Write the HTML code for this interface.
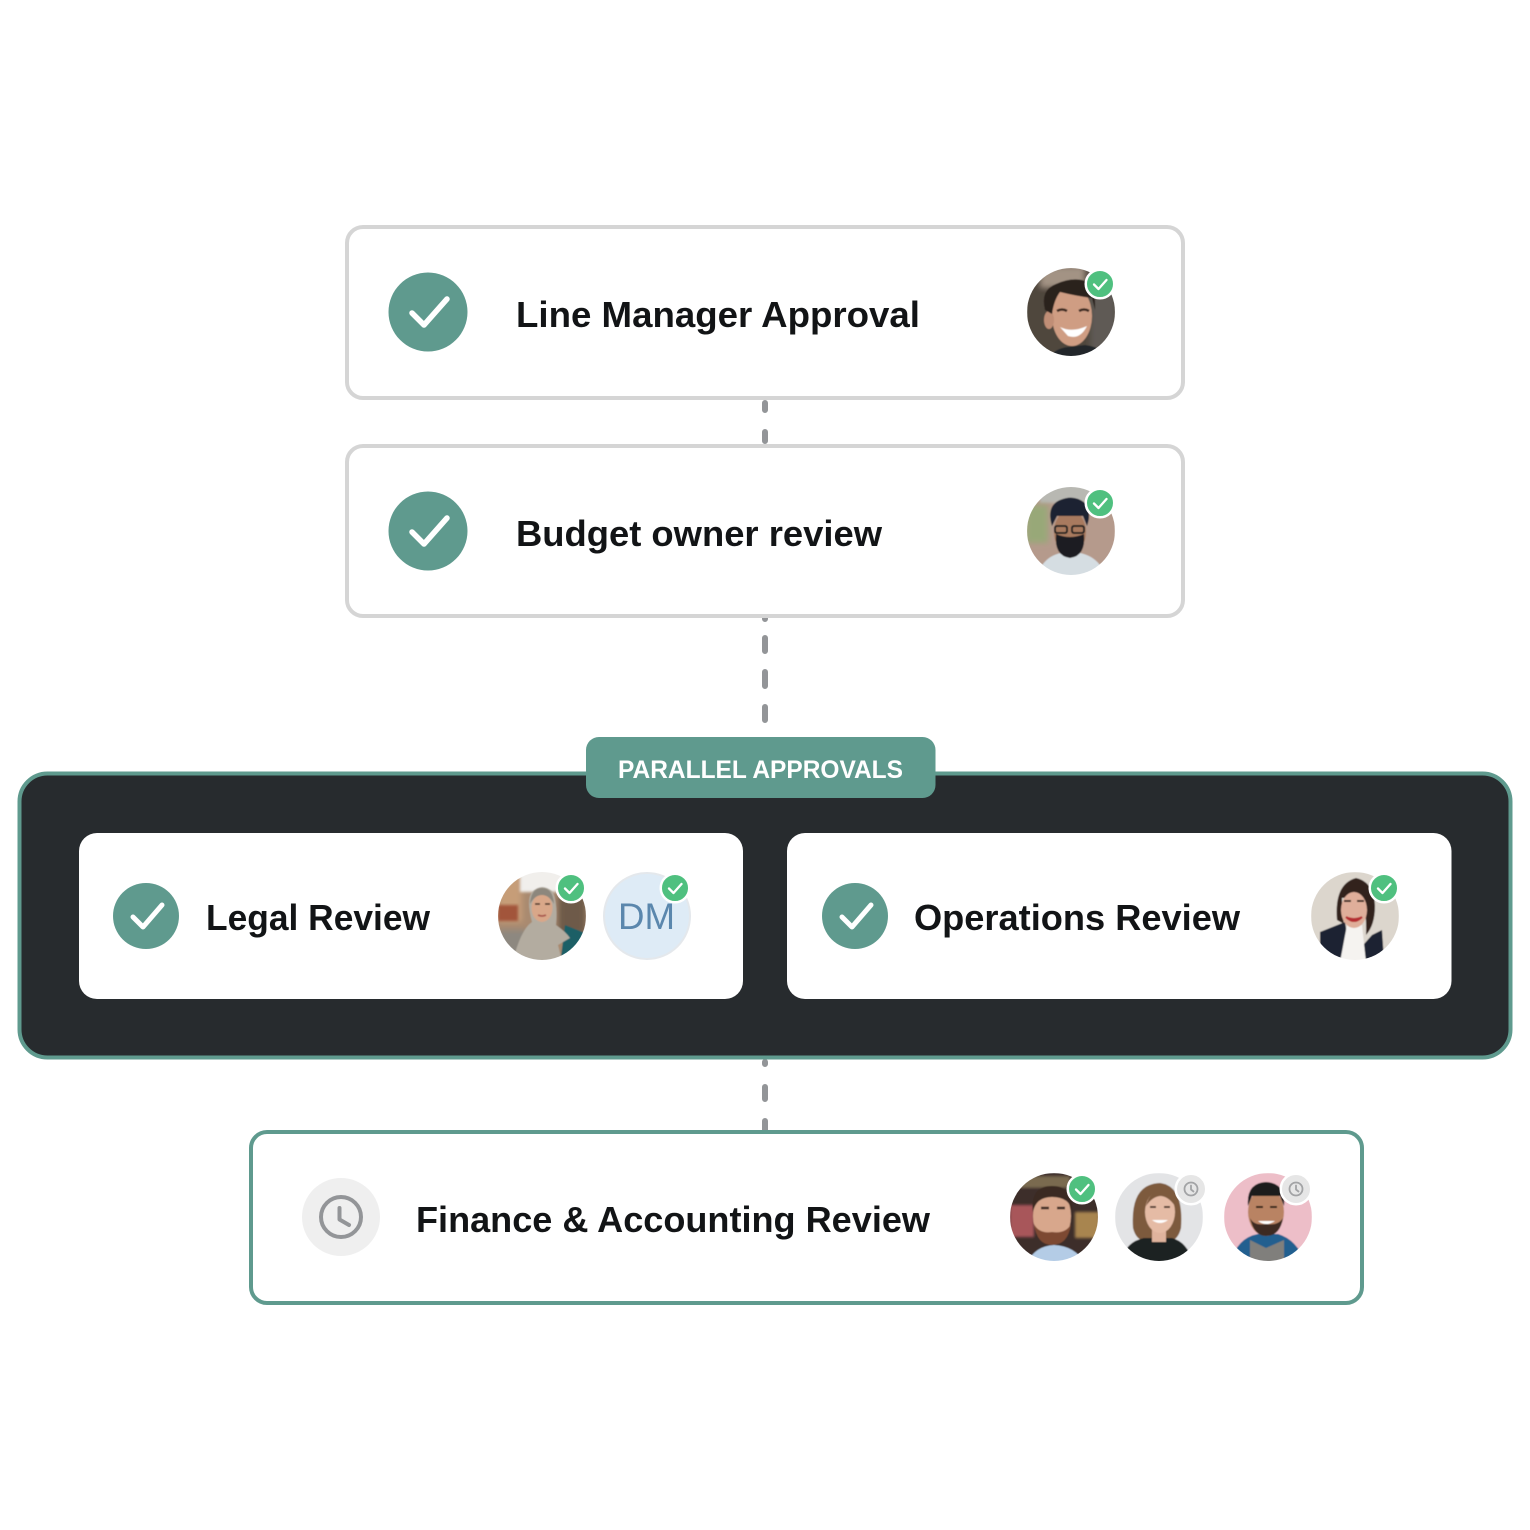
<!DOCTYPE html>
<html lang="en"><head><meta charset="utf-8"><title>Approval flow</title>
<style>html,body{margin:0;padding:0;background:#fff}svg{display:block}text{font-family:"Liberation Sans",Arial,sans-serif}
.t{font-size:36px;font-weight:700;fill:#121416}</style></head>
<body>
<svg width="1530" height="1530" viewBox="0 0 1530 1530" xmlns="http://www.w3.org/2000/svg">
<defs>
<clipPath id="c1"><circle cx="1071" cy="312" r="44"/></clipPath>
<clipPath id="c2"><circle cx="1071" cy="531" r="44"/></clipPath>
<clipPath id="c3"><circle cx="542" cy="916" r="44"/></clipPath>
<clipPath id="c4"><circle cx="1355" cy="916" r="44"/></clipPath>
<clipPath id="c5"><circle cx="1054" cy="1217" r="44"/></clipPath>
<clipPath id="c6"><circle cx="1159" cy="1217" r="44"/></clipPath>
<clipPath id="c7"><circle cx="1268" cy="1217" r="44"/></clipPath>
<filter id="s" x="-5%" y="-5%" width="110%" height="110%"><feGaussianBlur stdDeviation="0.6"/></filter>
<filter id="b1" x="-10%" y="-10%" width="120%" height="120%"><feGaussianBlur stdDeviation="1.2"/></filter>
<filter id="b3" x="-20%" y="-20%" width="140%" height="140%"><feGaussianBlur stdDeviation="3"/></filter>
</defs>
<rect width="1530" height="1530" fill="#fff"/>

<!-- connectors -->
<g stroke="#939598" stroke-width="6" stroke-linecap="round" fill="none">
<path d="M765 403V410M765 432V441M765 618V619M765 638V651M765 672V686M765 707V720M765 1062V1064M765 1087V1099M765 1121V1130"/>
</g>

<!-- top cards -->
<rect x="347" y="227" width="836" height="171" rx="16" fill="#fff" stroke="#d5d5d5" stroke-width="4"/>
<rect x="347" y="446" width="836" height="170" rx="16" fill="#fff" stroke="#d5d5d5" stroke-width="4"/>
<circle cx="428" cy="312" r="39.500" fill="#5f9a8e"/>
<path d="M412 313L424 325L447 299" fill="none" stroke="#fff" stroke-width="5.500" stroke-linecap="round" stroke-linejoin="round"/>
<circle cx="428" cy="531" r="39.500" fill="#5f9a8e"/>
<path d="M412 532L424 544L447 518" fill="none" stroke="#fff" stroke-width="5.500" stroke-linecap="round" stroke-linejoin="round"/>
<text class="t" x="516" y="327" textLength="404" lengthAdjust="spacingAndGlyphs">Line Manager Approval</text>
<text class="t" x="516" y="546" textLength="366" lengthAdjust="spacingAndGlyphs">Budget owner review</text>

<!-- avatar 1 -->
<g clip-path="url(#c1)"><g filter="url(#s)">
<rect x="1027" y="268" width="88" height="88" fill="#4f463d"/>
<rect x="1090" y="268" width="26" height="88" fill="#5f5a55" filter="url(#b3)"/>
<rect x="1040" y="266" width="45" height="22" fill="#a39384" filter="url(#b3)"/>
<path d="M1048 358Q1056 348 1068 347L1085 345Q1096 346 1102 352V360H1048Z" fill="#23282a"/>
<ellipse cx="1072" cy="316" rx="20" ry="30" fill="#cf9d83"/>
<ellipse cx="1049" cy="320" rx="5" ry="9" fill="#c08e76"/>
<path d="M1045 310Q1040 290 1056 284Q1074 276 1088 282Q1096 290 1095 310L1092 298Q1076 296 1060 292Q1054 300 1052 314Z" fill="#2a211d"/>
<path d="M1060 327Q1072 333 1087 326Q1080 340 1068 336Z" fill="#fff"/>
<path d="M1057 311q5-3 10 0M1079 311q5-3 10 0" fill="none" stroke="#3c2a22" stroke-width="2.500"/>
</g></g>
<!-- avatar 2 -->
<g clip-path="url(#c2)"><g filter="url(#s)">
<rect x="1027" y="487" width="88" height="88" fill="#b59a8c"/>
<rect x="1040" y="483" width="62" height="20" fill="#b8b8b2" filter="url(#b1)"/>
<rect x="1026" y="505" width="22" height="38" fill="#98a878" filter="url(#b3)"/>
<path d="M1035 582Q1042 552 1070 552Q1100 552 1108 582Z" fill="#d5dde2"/>
<ellipse cx="1070" cy="532" rx="16" ry="22" fill="#a87a5e"/>
<path d="M1052 526Q1046 506 1060 500Q1074 494 1085 503Q1092 512 1087 526L1083 516H1057Z" fill="#1d2230"/>
<path d="M1056 534Q1070 540 1084 534Q1086 556 1070 558Q1054 556 1056 534Z" fill="#1c1c22"/>
<rect x="1055" y="526" width="12" height="7" rx="2" fill="none" stroke="#222" stroke-width="2"/>
<rect x="1072" y="526" width="12" height="7" rx="2" fill="none" stroke="#222" stroke-width="2"/>
</g></g>

<!-- dark panel -->
<rect x="19.500" y="773.500" width="1491" height="284" rx="28" fill="#272b2e" stroke="#5f9a8e" stroke-width="4"/>
<rect x="586" y="737" width="349.500" height="61" rx="13" fill="#5f9a8e"/>
<text x="618" y="778" font-size="25" font-weight="700" fill="#fff" textLength="285" lengthAdjust="spacingAndGlyphs">PARALLEL APPROVALS</text>
<rect x="79" y="833" width="664" height="166" rx="18" fill="#fff"/>
<rect x="787" y="833" width="664.500" height="166" rx="18" fill="#fff"/>
<circle cx="146" cy="916" r="33" fill="#5f9a8e"/>
<path d="M133 917L143 927L162 905" fill="none" stroke="#fff" stroke-width="5" stroke-linecap="round" stroke-linejoin="round"/>
<circle cx="855" cy="916" r="33" fill="#5f9a8e"/>
<path d="M842 917L852 927L871 905" fill="none" stroke="#fff" stroke-width="5" stroke-linecap="round" stroke-linejoin="round"/>
<text class="t" x="206" y="930" textLength="224" lengthAdjust="spacingAndGlyphs">Legal Review</text>
<text class="t" x="914" y="930" textLength="326" lengthAdjust="spacingAndGlyphs">Operations Review</text>

<!-- avatar 3 hijab -->
<g clip-path="url(#c3)"><g filter="url(#s)">
<rect x="498" y="872" width="88" height="88" fill="#a98a70"/>
<rect x="498" y="872" width="24" height="50" fill="#c69d78" filter="url(#b3)"/>
<rect x="520" y="868" width="44" height="24" fill="#f1efec" filter="url(#b1)"/>
<rect x="498" y="905" width="20" height="16" fill="#a2543b" filter="url(#b1)"/>
<rect x="498" y="930" width="30" height="30" fill="#8d8880" filter="url(#b3)"/>
<rect x="558" y="895" width="28" height="40" fill="#6e5a48" filter="url(#b3)"/>
<path d="M560 965L565 925L590 935V965Z" fill="#1d5f66"/>
<path d="M512 965Q520 930 532 922Q526 900 532 892Q542 882 553 892Q558 905 556 925Q566 932 570 938L558 945L563 965Z" fill="#b3aca0"/>
<ellipse cx="542" cy="908" rx="10.500" ry="14" fill="#d9a789"/>
<path d="M530 904Q531 888 542 888Q553 888 554 904Q549 895 542 895Q535 895 530 904Z" fill="#8d877d"/>
<path d="M535 904h5M545 904h5" stroke="#3e2a22" stroke-width="1.600"/>
<path d="M538 915q4 2 8 0" stroke="#a9574e" stroke-width="1.800" fill="none"/>
</g></g>
<!-- DM -->
<circle cx="647" cy="916" r="43" fill="#deebf6" stroke="#e4e8ec" stroke-width="2"/>
<text x="618" y="929" font-size="37" fill="#5b87ad" textLength="57" lengthAdjust="spacingAndGlyphs">DM</text>

<!-- avatar 4 -->
<g clip-path="url(#c4)"><g filter="url(#s)">
<rect x="1311" y="872" width="88" height="88" fill="#dcd6cd"/>
<path d="M1350 960L1372 935L1382 930L1384 960Z" fill="#1b2233"/>
<path d="M1320 962V932L1345 922L1352 962Z" fill="#1b2233"/>
<path d="M1340 962L1347 925H1362L1366 962Z" fill="#f5f3f0"/>
<path d="M1337 920Q1334 884 1356 878Q1374 882 1375 906Q1375 925 1366 935Q1367 915 1362 897L1342 898Q1342 912 1344 924Z" fill="#33211e"/>
<ellipse cx="1354" cy="910" rx="13" ry="18" fill="#dfae9a"/>
<path d="M1346 917Q1354 925 1362 917Q1354 921 1346 917Z" fill="#b52f30" stroke="#b52f30" stroke-width="2"/>
<path d="M1344 901h7M1357 901h7" stroke="#3a2723" stroke-width="2"/>
</g></g>

<!-- bottom card -->
<rect x="251" y="1132" width="1111" height="171" rx="16" fill="#fff" stroke="#5f9a8e" stroke-width="4"/>
<circle cx="341" cy="1217" r="39" fill="#efefef"/>
<circle cx="341" cy="1217" r="20" fill="none" stroke="#939598" stroke-width="4"/>
<path d="M339.500 1208V1219.500L349 1225" fill="none" stroke="#939598" stroke-width="4" stroke-linecap="round" stroke-linejoin="round"/>
<text class="t" x="416" y="1232" textLength="514" lengthAdjust="spacingAndGlyphs">Finance &amp; Accounting Review</text>

<!-- avatar 5 -->
<g clip-path="url(#c5)"><g filter="url(#s)">
<rect x="1010" y="1173" width="88" height="88" fill="#3c2d2a"/>
<rect x="1010" y="1205" width="24" height="32" fill="#a8575a" filter="url(#b1)"/>
<rect x="1075" y="1212" width="24" height="26" fill="#a8854f" filter="url(#b1)"/>
<rect x="1020" y="1176" width="50" height="12" fill="#7a6a50" filter="url(#b1)"/>
<path d="M1026 1265Q1034 1246 1054 1245Q1076 1246 1086 1265Z" fill="#b4cce6"/>
<ellipse cx="1052" cy="1216" rx="19" ry="28" fill="#d8a78c"/>
<path d="M1033 1212Q1030 1186 1052 1186Q1074 1186 1072 1212Q1070 1197 1052 1197Q1036 1197 1033 1212Z" fill="#3a2a22"/>
<path d="M1034 1224Q1037 1245 1052 1245Q1068 1245 1071 1224Q1066 1234 1052 1232Q1039 1234 1034 1224Z" fill="#7d4a30"/>
<path d="M1041 1208h8M1057 1208h8" stroke="#3c2a22" stroke-width="2.500"/>
</g></g>
<!-- avatar 6 -->
<g clip-path="url(#c6)"><g filter="url(#s)">
<rect x="1115" y="1173" width="88" height="88" fill="#e3e4e6"/>
<path d="M1133 1228Q1130 1184 1160 1183Q1184 1186 1181 1228Q1178 1240 1170 1241H1145Q1136 1240 1133 1228Z" fill="#7d5a3e"/>
<path d="M1120 1265Q1124 1242 1144 1238H1172Q1188 1242 1194 1265Z" fill="#1e2021"/>
<rect x="1152" y="1228" width="14" height="14" fill="#dfb39d"/>
<ellipse cx="1160" cy="1212" rx="15" ry="21" fill="#e5bba5"/>
<path d="M1146 1206Q1150 1190 1162 1190Q1172 1192 1175 1206Q1168 1196 1160 1196Q1152 1197 1146 1206Z" fill="#7d5a3e"/>
<path d="M1150 1207h6M1164 1207h6" stroke="#3f2a22" stroke-width="1.800"/>
<path d="M1152 1220Q1160 1226 1168 1220Z" fill="#fff"/>
</g></g>
<!-- avatar 7 -->
<g clip-path="url(#c7)"><g filter="url(#s)">
<rect x="1224" y="1173" width="88" height="88" fill="#edbec8"/>
<path d="M1230 1265Q1236 1238 1258 1234H1278Q1298 1240 1306 1265Z" fill="#235f8f"/>
<path d="M1250 1265V1240L1266 1248L1284 1240V1265Z" fill="#807f7c"/>
<ellipse cx="1266" cy="1212" rx="18" ry="24" fill="#b98364"/>
<path d="M1248 1206Q1246 1183 1266 1182Q1286 1183 1284 1206L1280 1196H1252Z" fill="#1d1b1c"/>
<path d="M1250 1218Q1254 1236 1266 1236Q1280 1236 1283 1218Q1278 1226 1266 1224Q1254 1226 1250 1218Z" fill="#3e2c24"/>
<path d="M1256 1207h7M1270 1207h7" stroke="#2b1d18" stroke-width="2"/>
<path d="M1258 1221Q1266 1227 1275 1221Z" fill="#fff"/>
</g></g>

<!-- green badges -->
<g fill="#4fc07f" stroke="#fff" stroke-width="2.500">
<circle cx="1100" cy="284" r="14.250"/>
<circle cx="1100" cy="503" r="14.250"/>
<circle cx="571" cy="888" r="14.250"/>
<circle cx="675" cy="888" r="14.250"/>
<circle cx="1384" cy="888" r="14.250"/>
<circle cx="1082" cy="1189" r="14.250"/>
</g>
<g fill="none" stroke="#fff" stroke-width="2.300" stroke-linecap="round" stroke-linejoin="round">
<path d="M1094 284.500l4.500 4.500 8-9"/>
<path d="M1094 503.500l4.500 4.500 8-9"/>
<path d="M565 888.500l4.500 4.500 8-9"/>
<path d="M669 888.500l4.500 4.500 8-9"/>
<path d="M1378 888.500l4.500 4.500 8-9"/>
<path d="M1076 1189.500l4.500 4.500 8-9"/>
</g>
<!-- pending badges -->
<g fill="#e6e6e6" stroke="#fff" stroke-width="2.500">
<circle cx="1191" cy="1189" r="15.250"/>
<circle cx="1296" cy="1189" r="15.250"/>
</g>
<g fill="none" stroke="#a2a3a5" stroke-width="1.800" stroke-linecap="round" stroke-linejoin="round">
<circle cx="1191" cy="1189" r="6.500"/><path d="M1191 1185.500v4l2.500 2"/>
<circle cx="1296" cy="1189" r="6.500"/><path d="M1296 1185.500v4l2.500 2"/>
</g>
</svg>
</body></html>
